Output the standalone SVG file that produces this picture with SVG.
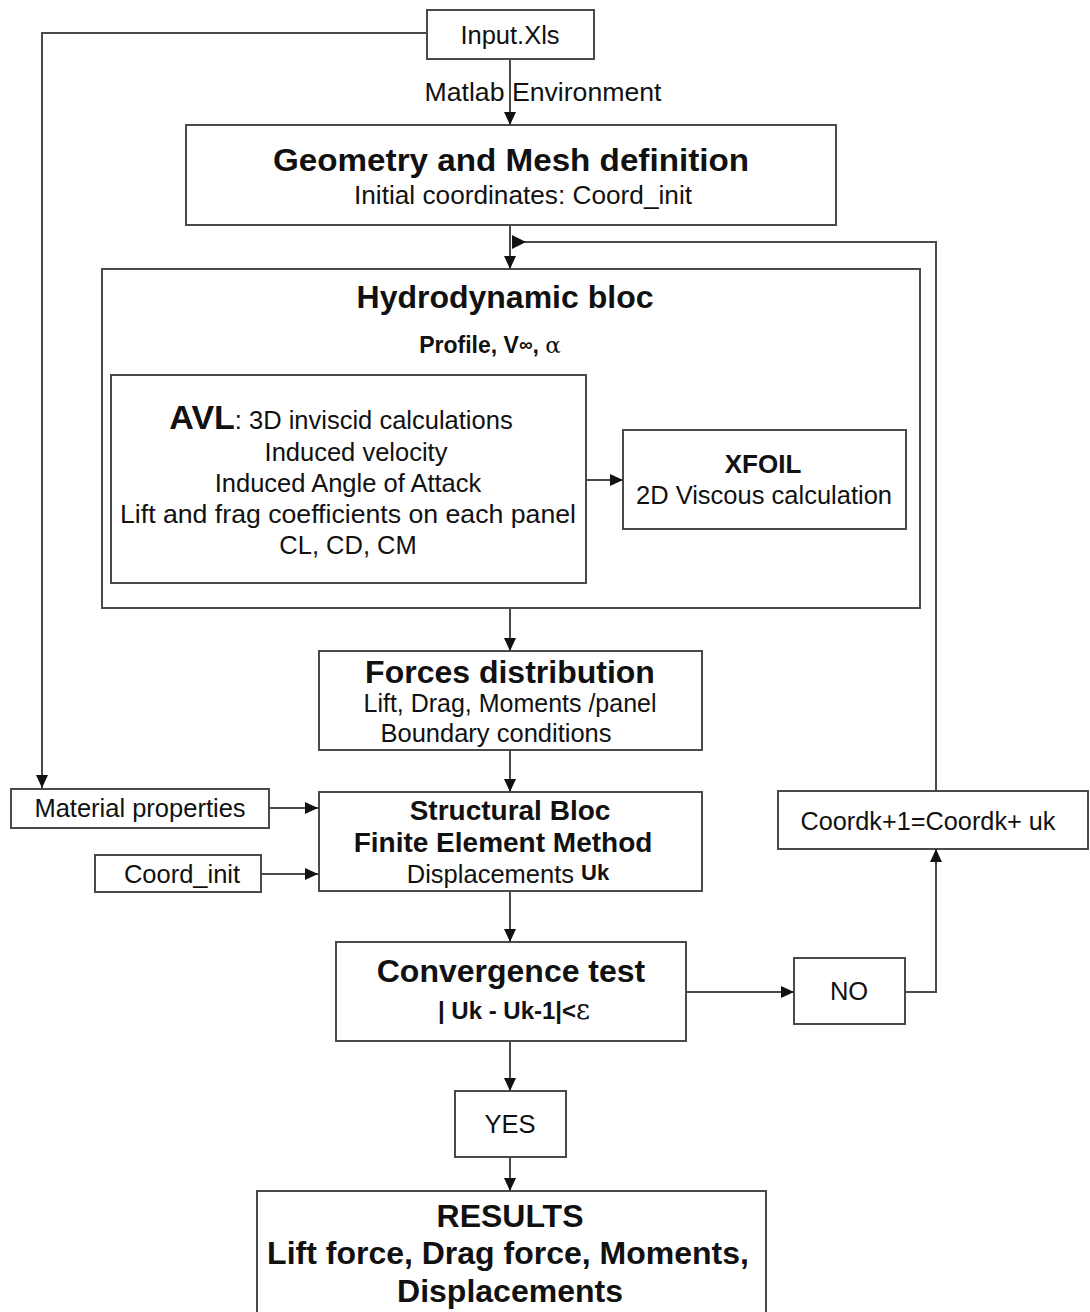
<svg xmlns="http://www.w3.org/2000/svg" width="1090" height="1312" viewBox="0 0 1090 1312">
  <style>
    .box { fill: #ffffff; stroke: #4a4a4a; stroke-width: 2; }
    .wire { fill: none; stroke: #4a4a4a; stroke-width: 2; }
    text { font-family: "Liberation Sans", Arial, sans-serif; fill: #111111; text-anchor: middle; }
    .t { font-size: 32px; font-weight: bold; }
    .r { font-size: 25.5px; }
    .b { font-weight: bold; }
  </style>
  <defs>
    <marker id="arrow" markerUnits="userSpaceOnUse" markerWidth="14" markerHeight="12" refX="13" refY="6" orient="auto">
      <path d="M0,0 L13,6 L0,12 Z" fill="#111111"/>
    </marker>
  </defs>
  <rect width="1090" height="1312" fill="#ffffff"/>

  <!-- label on the input link -->
  <text class="r" x="543" y="101" textLength="237" lengthAdjust="spacingAndGlyphs">Matlab Environment</text>

  <g id="input">
    <rect class="box" x="427" y="10" width="167" height="49"/>
    <text class="r" x="510" y="44">Input.Xls</text>
  </g>

  <g id="geometry">
    <rect class="box" x="186" y="125" width="650" height="100"/>
    <text class="t" x="511" y="171" textLength="476" lengthAdjust="spacingAndGlyphs">Geometry and Mesh definition</text>
    <text class="r" x="523" y="204" textLength="338" lengthAdjust="spacingAndGlyphs">Initial coordinates: Coord_init</text>
  </g>

  <g id="hydrodynamic">
    <rect class="box" x="102" y="269" width="818" height="339"/>
    <text class="t" x="505" y="308">Hydrodynamic bloc</text>
    <text class="b" x="490" y="353" font-size="23">Profile, V<tspan font-size="19" dy="-2">∞</tspan><tspan dy="2">, </tspan><tspan font-weight="normal" font-family="DejaVu Serif, serif" font-size="23">α</tspan></text>
  </g>

  <g id="avl">
    <rect class="box" x="111" y="375" width="475" height="208"/>
    <text class="r" x="341" y="429"><tspan class="b" font-size="34">AVL</tspan>: 3D inviscid calculations</text>
    <text class="r" x="356" y="461">Induced velocity</text>
    <text class="r" x="348" y="492">Induced Angle of Attack</text>
    <text class="r" x="348" y="523" textLength="456" lengthAdjust="spacingAndGlyphs">Lift and frag coefficients on each panel</text>
    <text class="r" x="348" y="554">CL, CD, CM</text>
  </g>

  <g id="xfoil">
    <rect class="box" x="623" y="430" width="283" height="99"/>
    <text class="b" x="763" y="473" font-size="26">XFOIL</text>
    <text class="r" x="764" y="504">2D Viscous calculation</text>
  </g>

  <g id="forces">
    <rect class="box" x="319" y="651" width="383" height="99"/>
    <text class="t" x="510" y="683">Forces distribution</text>
    <text class="r" x="510" y="712" textLength="293" lengthAdjust="spacingAndGlyphs">Lift, Drag, Moments /panel</text>
    <text class="r" x="496" y="742">Boundary conditions</text>
  </g>

  <g id="structural">
    <rect class="box" x="319" y="792" width="383" height="99"/>
    <text class="b" x="510" y="820" font-size="28">Structural Bloc</text>
    <text class="b" x="503" y="852" font-size="28">Finite Element Method</text>
    <text class="r" x="508" y="883">Displacements <tspan class="b" font-size="22" dy="-3">Uk</tspan></text>
  </g>

  <g id="material">
    <rect class="box" x="11" y="789" width="258" height="39"/>
    <text class="r" x="140" y="817">Material properties</text>
  </g>

  <g id="coord-init">
    <rect class="box" x="95" y="855" width="166" height="37"/>
    <text class="r" x="182" y="883">Coord_init</text>
  </g>

  <g id="convergence">
    <rect class="box" x="336" y="942" width="350" height="99"/>
    <text class="t" x="511" y="982">Convergence test</text>
    <text class="b" x="514" y="1019" font-size="24">| Uk - Uk-1|&lt;<tspan font-weight="normal" font-family="DejaVu Serif, serif" font-size="27">ε</tspan></text>
  </g>

  <g id="no">
    <rect class="box" x="794" y="958" width="111" height="66"/>
    <text class="r" x="849" y="1000">NO</text>
  </g>

  <g id="coord-update">
    <rect class="box" x="778" y="791" width="310" height="58"/>
    <text class="r" x="928" y="830" font-size="24" textLength="255" lengthAdjust="spacingAndGlyphs">Coordk+1=Coordk+ uk</text>
  </g>

  <g id="yes">
    <rect class="box" x="455" y="1091" width="111" height="66"/>
    <text class="r" x="510" y="1133">YES</text>
  </g>

  <g id="results">
    <rect class="box" x="257" y="1191" width="509" height="140"/>
    <text class="t" x="510" y="1227">RESULTS</text>
    <text class="t" x="508" y="1264">Lift force, Drag force, Moments,</text>
    <text class="t" x="510" y="1302">Displacements</text>
  </g>

  <!-- connectors, drawn last so no box fill hides them -->
  <g id="connectors">
    <path class="wire" d="M427,33 H42 V788" marker-end="url(#arrow)"/>
    <path class="wire" d="M510,59 V125" marker-end="url(#arrow)"/>
    <path class="wire" d="M510,225 V269" marker-end="url(#arrow)"/>
    <path class="wire" d="M936,790 V242 H512"/>
    <path d="M512,235 L526,242 L512,249 Z" fill="#111111"/>
    <path class="wire" d="M510,608 V651" marker-end="url(#arrow)"/>
    <path class="wire" d="M586,480 H623" marker-end="url(#arrow)"/>
    <path class="wire" d="M510,750 V792" marker-end="url(#arrow)"/>
    <path class="wire" d="M269,808 H318" marker-end="url(#arrow)"/>
    <path class="wire" d="M261,874 H318" marker-end="url(#arrow)"/>
    <path class="wire" d="M510,891 V942" marker-end="url(#arrow)"/>
    <path class="wire" d="M686,992 H794" marker-end="url(#arrow)"/>
    <path class="wire" d="M905,992 H936 V849" marker-end="url(#arrow)"/>
    <path class="wire" d="M510,1041 V1091" marker-end="url(#arrow)"/>
    <path class="wire" d="M510,1157 V1191" marker-end="url(#arrow)"/>
  </g>
</svg>
